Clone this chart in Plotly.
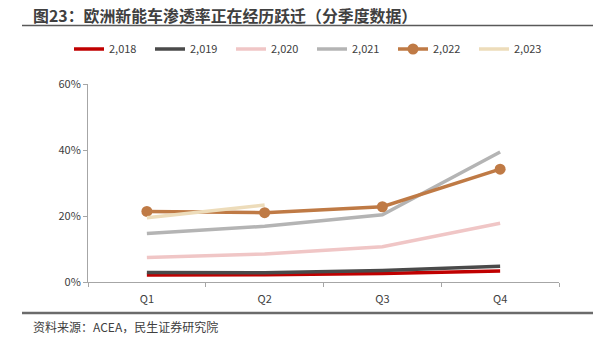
import plotly.graph_objects as go

quarters = ["Q1", "Q2", "Q3", "Q4"]
years = ["2,018", "2,019", "2,020", "2,021", "2,022", "2,023"]
values = {
    "2,018": [0.021, 0.022, 0.026, 0.033],
    "2,019": [0.029, 0.028, 0.035, 0.048],
    "2,020": [0.074, 0.085, 0.107, 0.178],
    "2,021": [0.147, 0.169, 0.204, 0.394],
    "2,022": [0.214, 0.210, 0.228, 0.342],
    "2,023": [0.195, 0.233, None, None],
}
colors = {
    "2,018": "#C00000",
    "2,019": "#4A4A4A",
    "2,020": "#F0C6C6",
    "2,021": "#B4B4B4",
    "2,022": "#BF7A45",
    "2,023": "#EDDCBA",
}
title = "图23：欧洲新能车渗透率正在经历跃迁（分季度数据）"
source = "资料来源：ACEA，民生证券研究院"
yticks = [0, 0.2, 0.4, 0.6]

W, H = 612, 344
L, R, T, B = 88, 53, 84, 62


def py(pix):
    return (H - B - pix) / (H - T - B)


def px(pix):
    return (pix - L) / (W - L - R)


fig = go.Figure()
for y in years:
    is22 = y == "2,022"
    fig.add_trace(go.Scatter(
        x=quarters, y=values[y], name=y,
        mode="lines+markers" if is22 else "lines",
        line=dict(color=colors[y], width=3.5),
        marker=dict(size=11, color=colors[y]),
    ))

fig.update_layout(
    width=W, height=H,
    margin=dict(l=L, r=R, t=T, b=B, autoexpand=False),
    paper_bgcolor="white", plot_bgcolor="white",
    font=dict(family="Noto Sans CJK SC, sans-serif", color="#404040", size=11),
    showlegend=True,
    legend=dict(
        orientation="h", xref="paper", x=px(69), xanchor="left",
        yref="paper", y=py(49), yanchor="middle",
        font=dict(size=11, color="#404040"),
        entrywidth=36, entrywidthmode="pixels", itemwidth=30,
        bgcolor="rgba(0,0,0,0)", tracegroupgap=0,
    ),
    xaxis=dict(
        type="category", range=[-0.5, 3.5], showgrid=False,
        showline=True, linecolor="#A6A6A6", linewidth=1,
        ticks="outside", tickson="boundaries", ticklen=4, tickcolor="#A6A6A6",
        tickfont=dict(size=11, color="#404040"), ticklabelstandoff=7,
    ),
    yaxis=dict(
        range=[0, 0.6], tickvals=yticks, tickformat=".0%", showgrid=False,
        showline=True, linecolor="#A6A6A6", linewidth=1,
        ticks="outside", ticklen=4, tickcolor="#A6A6A6",
        tickfont=dict(size=11, color="#404040"), zeroline=False,
    ),
)

fig.add_annotation(
    text="<b>" + title + "</b>", xref="paper", yref="paper",
    x=px(31), y=py(15.5), xanchor="left", yanchor="middle",
    showarrow=False, font=dict(size=15.9, color="#404040"),
)
fig.add_annotation(
    text=source, xref="paper", yref="paper",
    x=px(31), y=py(326), xanchor="left", yanchor="middle",
    showarrow=False, font=dict(size=12, color="#404040"),
)

fig.add_shape(type="line", xref="paper", yref="paper", x0=px(22), x1=px(593), y0=py(25.5), y1=py(25.5),
              line=dict(color="#595959", width=1.5))
fig.add_shape(type="line", xref="paper", yref="paper", x0=px(22), x1=px(593), y0=py(313), y1=py(313),
              line=dict(color="#6B6B6B", width=2.5))

fig.write_html("out.html")
